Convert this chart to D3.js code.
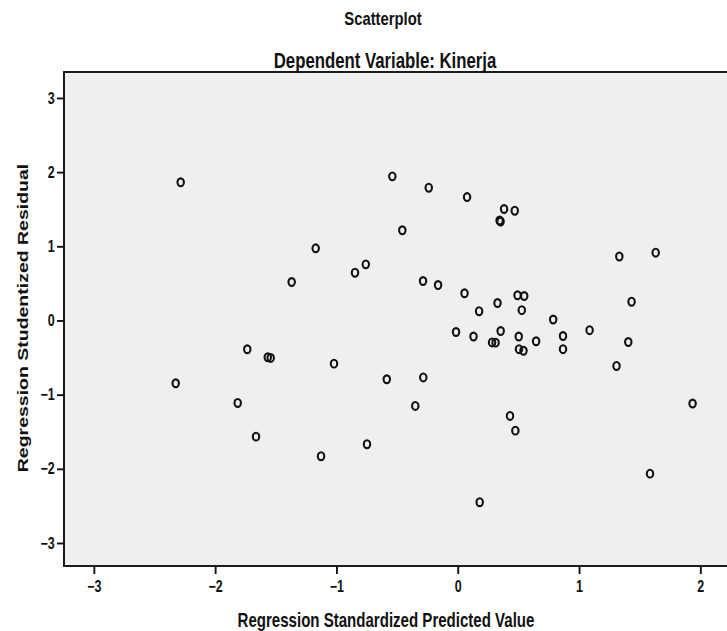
<!DOCTYPE html>
<html>
<head>
<meta charset="utf-8">
<script src="https://cdn.jsdelivr.net/npm/d3@7"></script>
<style>
  html, body { margin: 0; padding: 0; background: #ffffff; }
  svg { display: block; font-family: "Liberation Sans", Arial, sans-serif; }
</style>
</head>
<body>
<svg id="chart" width="727" height="631"></svg>
<script>
// ---- Data ----
const titleText = "Scatterplot";
const subtitleText = "Dependent Variable: Kinerja";
const xLabel = "Regression Standardized Predicted Value";
const yLabel = "Regression Studentized Residual";
const xTicks = [-3, -2, -1, 0, 1, 2];
const yTicks = [-3, -2, -1, 0, 1, 2, 3];

// Regression standardized predicted values
const predicted = [
  -2.284, -0.539, -0.239, -0.457, -1.171, -1.369, -0.847, -0.758, -0.286, -0.162, -1.735,
  0.077, 0.382, 0.470, 0.345, 0.353, 1.332, 1.632, 0.056, 0.176, 0.328, 0.493, 0.548,
  0.528, 0.787, 1.433, -0.014, 0.130, 0.354, 0.283, 0.312, 0.503, 0.646, 0.868, 1.087,
  1.406, 0.868, 0.505, 0.542, 1.309, 1.936,
  -1.566, -1.542, -2.325, -1.020, -0.585, -0.284, -1.814, -0.350, -1.663, -0.748, -1.127,
  0.431, 0.475, 1.585, 0.181
];
// Regression studentized residuals
const residual = [
  1.863, 1.943, 1.790, 1.216, 0.973, 0.519, 0.644, 0.757, 0.532, 0.478, -0.388,
  1.664, 1.503, 1.480, 1.348, 1.334, 0.863, 0.914, 0.367, 0.125, 0.236, 0.340, 0.330,
  0.139, 0.013, 0.253, -0.155, -0.216, -0.142, -0.296, -0.299, -0.216, -0.280, -0.209, -0.131,
  -0.290, -0.387, -0.387, -0.408, -0.613, -1.119,
  -0.496, -0.505, -0.846, -0.582, -0.792, -0.768, -1.112, -1.152, -1.566, -1.668, -1.830,
  -1.287, -1.485, -2.065, -2.450
];

// ---- Layout ----
const svg = d3.select("#chart");
const plotL = 64, plotT = 72, plotR = 736, plotB = 566;
const squeeze = 0.78; // the reference is horizontally compressed

const x = d3.scaleLinear().domain([-3.246, 2.294]).range([plotL, plotR]);
const y = d3.scaleLinear().domain([-3.31, 3.35]).range([plotB, plotT]);

// plot background
svg.append("rect")
  .attr("x", plotL).attr("y", plotT)
  .attr("width", plotR - plotL + 20).attr("height", plotB - plotT)
  .attr("fill", "#f0eef1")
  .attr("stroke", "#111").attr("stroke-width", 1.9);

// axes
const xAxis = d3.axisBottom(x).tickValues(xTicks).tickSize(8).tickPadding(7)
  .tickFormat(d3.format("d"));
const gx = svg.append("g").attr("transform", `translate(0,${plotB})`).call(xAxis);
gx.select(".domain").remove();

const yAxis = d3.axisLeft(y).tickValues(yTicks).tickSize(7).tickPadding(5)
  .tickFormat(d3.format("d"));
const gy = svg.append("g").attr("transform", `translate(${plotL},0)`).call(yAxis);
gy.select(".domain").remove();

[gx, gy].forEach(g => {
  g.attr("font-size", 16).attr("font-family", "'Liberation Sans', Arial, sans-serif");
  g.selectAll("line").attr("stroke", "#111").attr("stroke-width", 1.9);
  g.selectAll("text")
    .attr("fill", "#111")
    .attr("transform", `scale(${squeeze},1)`)
    .style("font-size", "16px")
    .style("font-weight", "bold");
});

// points (open markers, slightly tall because of the squeezed scan)
const pts = predicted.map((v, i) => ({ x: v, y: residual[i] }));
svg.append("g").selectAll("ellipse").data(pts).join("ellipse")
  .attr("cx", d => x(d.x))
  .attr("cy", d => y(d.y))
  .attr("rx", 3.2)
  .attr("ry", 3.9)
  .attr("fill", "none")
  .attr("stroke", "#111")
  .attr("stroke-width", 2.1);

// titles
function label(txt, cx, by, size, rot) {
  const t = svg.append("text")
    .attr("text-anchor", "middle")
    .style("font-size", size + "px").style("font-weight", "bold").attr("fill", "#111")
    .text(txt);
  if (rot) t.attr("transform", `translate(${cx},${by}) rotate(-90) scale(1,${squeeze})`);
  else t.attr("transform", `translate(${cx},${by}) scale(${squeeze},1)`);
  return t;
}
label(titleText, 383, 25, 19);
label(subtitleText, 385, 68, 21.5);
label(xLabel, 386, 627, 19.3);
label(yLabel, 28, 318, 19.5, true);
</script>
</body>
</html>
